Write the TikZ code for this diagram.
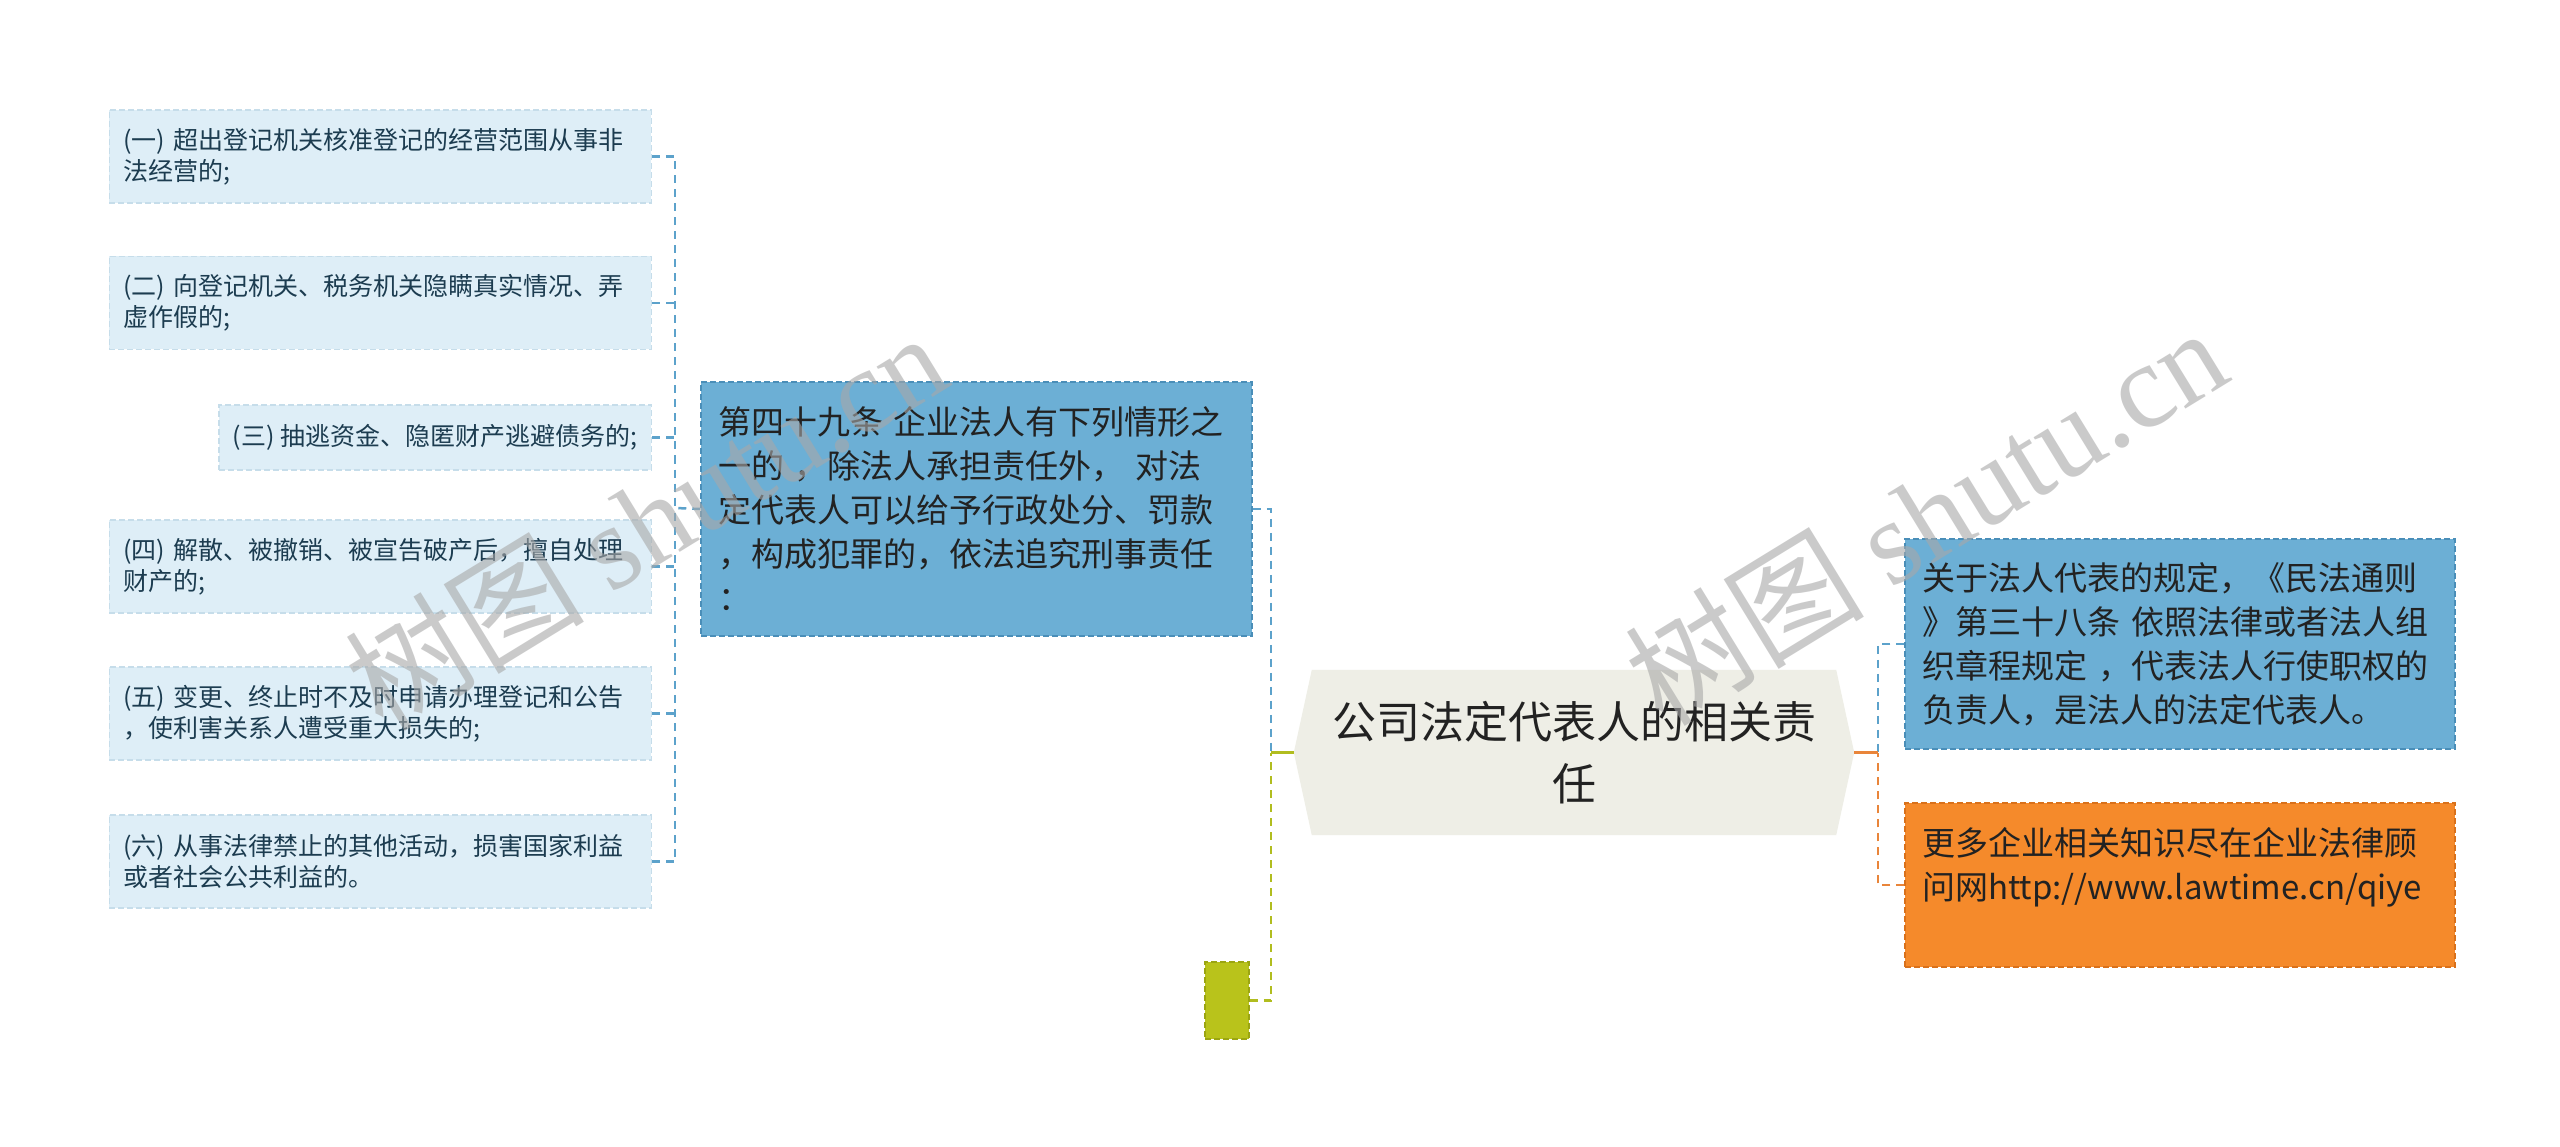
\documentclass[tikz,border=0pt]{standalone}
\usepackage{fontspec}
\setmainfont{Noto Sans CJK SC}
\newfontfamily\wmserif{Liberation Serif}
\usetikzlibrary{backgrounds}
\definecolor{lfill}{HTML}{DEEEF7}
\definecolor{lborder}{HTML}{C6DDEA}
\definecolor{ltext}{HTML}{1C3C50}
\definecolor{bfill}{HTML}{6CAFD5}
\definecolor{bborder}{HTML}{4A8EB8}
\definecolor{ofill}{HTML}{F58A2B}
\definecolor{oborder}{HTML}{D9711B}
\definecolor{gfill}{HTML}{B9C31B}
\definecolor{gborder}{HTML}{9BA512}
\definecolor{cfill}{HTML}{EEEEE6}
\definecolor{cblue}{HTML}{5CA2CB}
\definecolor{cgreen}{HTML}{B1BD1F}
\definecolor{corange}{HTML}{E9853A}
\definecolor{dtext}{HTML}{222222}
\definecolor{wmgray}{HTML}{A8A8A8}
\tikzset{
  lbox/.style={fill=lfill, draw=lborder, line width=1.5pt, dash pattern=on 6pt off 3pt,
    text=ltext, font=\fontsize{25}{31}\selectfont, align=left, inner xsep=14pt, inner ysep=6pt},
  bluebox/.style={fill=bfill, draw=bborder, line width=1.5pt, dash pattern=on 6pt off 3pt,
    text=dtext, font=\fontsize{33}{44}\selectfont, align=left, inner xsep=17pt, text width=517pt},
  orangebox/.style={fill=ofill, draw=oborder, line width=1.5pt, dash pattern=on 6pt off 3pt,
    text=dtext, font=\fontsize{33}{44}\selectfont, align=left, inner xsep=17pt, text width=516pt},
  greenbox/.style={fill=gfill, draw=gborder, line width=1.5pt, dash pattern=on 6pt off 3pt,
    minimum width=44pt, minimum height=77pt, inner sep=0pt},
  centernode/.style={text=dtext, font=\fontsize{44}{62}\selectfont, align=center,
    minimum width=560pt, minimum height=165pt, inner sep=0pt},
  bdash/.style={draw=cblue, line width=2.5pt, dash pattern=on 8pt off 6pt},
  gdash/.style={draw=cgreen, line width=2.5pt, dash pattern=on 8pt off 6pt},
  odash/.style={draw=corange, line width=2.5pt, dash pattern=on 8pt off 6pt},
  gsolid/.style={draw=cgreen, line width=3pt},
  osolid/.style={draw=corange, line width=3pt},
  wm/.style={text=wmgray, opacity=0.6, font=\fontsize{120}{120}\selectfont, inner sep=0pt}
}
\begin{document}
\begin{tikzpicture}[x=1pt,y=-1pt]
\begin{scope}[on background layer]
\fill[white] (0,0) rectangle (2560,1147);
\end{scope}
\useasboundingbox (0,0) rectangle (2560,1147);

% left leaf boxes
\node[lbox, text width=514pt, minimum height=93pt, anchor=east] (b1) at (652,156.5) {(一) 超出登记机关核准登记的经营范围从事非\\法经营的;};
\node[lbox, text width=514pt, minimum height=93pt, anchor=east] (b2) at (652,303) {(二) 向登记机关、税务机关隐瞒真实情况、弄\\虚作假的;};
\node[lbox, minimum height=65pt, anchor=east] (b3) at (652,437.5) {(三) 抽逃资金、隐匿财产逃避债务的;};
\node[lbox, text width=514pt, minimum height=93pt, anchor=east] (b4) at (652,566.5) {(四) 解散、被撤销、被宣告破产后，擅自处理\\财产的;};
\node[lbox, text width=514pt, minimum height=93pt, anchor=east] (b5) at (652,713.5) {(五) 变更、终止时不及时申请办理登记和公告\\，使利害关系人遭受重大损失的;};
\node[lbox, text width=514pt, minimum height=93pt, anchor=east] (b6) at (652,861.5) {(六) 从事法律禁止的其他活动，损害国家利益\\或者社会公共利益的。};

% middle node
\node[bluebox, minimum height=254pt] (mid) at (976.5,509) {第四十九条 企业法人有下列情形之\\一的 ，除法人承担责任外， 对法\\定代表人可以给予行政处分、罚款\\，构成犯罪的，依法追究刑事责任\\：};

% small green node
\node[greenbox] (gb) at (1227,1000.5) {};

% central node
\node[centernode] (c) at (1574,752.5) {公司法定代表人的相关责\\任};
\begin{scope}[on background layer]
\fill[cfill] (c.west) -- ([xshift=18pt]c.north west) -- ([xshift=-18pt]c.north east) -- (c.east) -- ([xshift=-18pt]c.south east) -- ([xshift=18pt]c.south west) -- cycle;
\end{scope}

% right nodes
\node[bluebox, text width=516pt, minimum height=210pt] (rb) at (2180,644) {关于法人代表的规定，《民法通则\\》第三十八条 依照法律或者法人组\\织章程规定 ，代表法人行使职权的\\负责人，是法人的法定代表人。};
\node[orangebox, minimum height=164pt] (ob) at (2180,885) {更多企业相关知识尽在企业法律顾\\问网http://www.lawtime.cn/qiye\\~};

% junctions
\coordinate (lt) at (675,508);
\coordinate (lj) at (1271,752.5);
\coordinate (rj) at (1878,752.5);

% connectors
\draw[bdash] (mid.west) -- (lt);
\draw[bdash] (b1.east) -| (lt);
\draw[bdash] (b6.east) -| (lt);
\foreach \b in {b2,b3,b4,b5} { \draw[bdash] (\b.east) -- (\b.east -| lt); }
\draw[bdash] (mid.east) -| (lj);
\draw[gdash] (gb.east) -| (lj);
\draw[gsolid] (lj) -- (c.west);
\draw[bdash] (rb.west) -| (rj);
\draw[odash] (ob.west) -| (rj);
\draw[osolid] (c.east) -- (rj);

% watermarks
\node[wm, rotate=31.5] (w1) at (645,520) {树图 {\wmserif shutu.cn}};
\node[wm, rotate=31.5] (w2) at (1925,515) {树图 {\wmserif shutu.cn}};
\end{tikzpicture}
\end{document}
